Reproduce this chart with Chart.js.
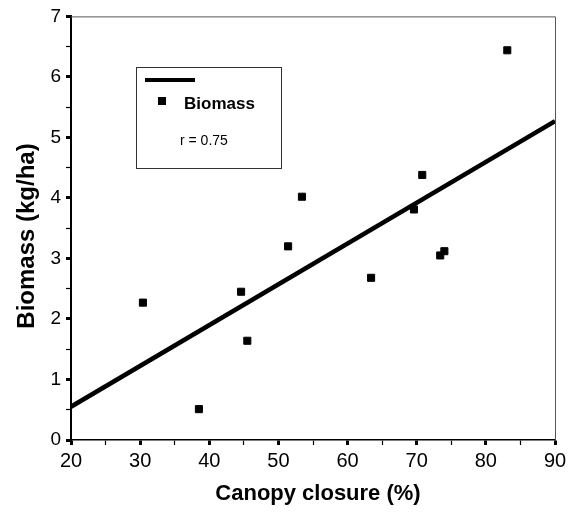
<!DOCTYPE html>
<html>
<head>
<meta charset="utf-8">
<script src="https://cdn.jsdelivr.net/npm/chart.js@4"></script>
<style>
  html, body { margin: 0; padding: 0; background: #fff; }
  #wrap { width: 576px; height: 512px; }
</style>
</head>
<body>
<div id="wrap"><canvas id="chart" width="576" height="512"></canvas></div>
<script>
// ===============================
// DATA
// ===============================
const canopy  = [30.4, 38.5, 44.6, 45.5, 51.4, 53.4, 63.4, 69.6, 70.8, 73.4, 74.0, 83.1];
const biomass = [2.27, 0.51, 2.45, 1.64, 3.20, 4.02, 2.68, 3.81, 4.38, 3.05, 3.12, 6.44];
const fitX = [20, 90];
const fitY = [0.55, 5.27];
const xTicks = [20, 30, 40, 50, 60, 70, 80, 90];
const yTicks = [0, 1, 2, 3, 4, 5, 6, 7];

const FONT = "'Liberation Sans', Arial, sans-serif";

const points = canopy.map((x, i) => ({ x: x, y: biomass[i] }));
const fitLine = fitX.map((x, i) => ({ x: x, y: fitY[i] }));

// ===============================
// FRAME, LEGEND BOX, AXIS TITLES
// ===============================
const decor = {
  id: "decor",
  beforeDatasetsDraw(chart) {
    const { ctx, chartArea: a } = chart;
    ctx.save();
    ctx.strokeStyle = "#555";
    ctx.lineWidth = 1;
    ctx.beginPath();
    ctx.moveTo(a.left, a.top + 0.5);
    ctx.lineTo(a.right + 0.5, a.top + 0.5);
    ctx.lineTo(a.right + 0.5, a.bottom);
    ctx.stroke();
    ctx.restore();
  },
  afterDraw(chart) {
    const { ctx } = chart;
    ctx.save();

    // legend box
    ctx.fillStyle = "#fff";
    ctx.fillRect(136, 67, 145, 101);
    ctx.strokeStyle = "#333";
    ctx.lineWidth = 1;
    ctx.strokeRect(136.5, 67.5, 145, 101);

    ctx.strokeStyle = "#000";
    ctx.lineWidth = 4;
    ctx.beginPath();
    ctx.moveTo(145, 80);
    ctx.lineTo(195, 80);
    ctx.stroke();

    ctx.fillStyle = "#000";
    ctx.fillRect(158, 97, 8, 8);

    ctx.textBaseline = "middle";
    ctx.textAlign = "left";
    ctx.font = "bold 17px " + FONT;
    ctx.fillText("Biomass", 184, 104);
    ctx.font = "14px " + FONT;
    ctx.fillText("r = 0.75", 180, 141);

    // axis titles
    ctx.font = "bold 22px " + FONT;
    ctx.textAlign = "center";
    ctx.fillText("Canopy closure (%)", 318, 494);
    ctx.font = "bold 24px " + FONT;
    ctx.translate(27, 236);
    ctx.rotate(-Math.PI / 2);
    ctx.fillText("Biomass (kg/ha)", 0, 0);
    ctx.restore();
  }
};

// ===============================
// CHART
// ===============================
new Chart(document.getElementById("chart"), {
  type: "scatter",
  data: {
    datasets: [
      {
        type: "line",
        data: fitLine,
        borderColor: "#000",
        borderWidth: 4.5,
        pointRadius: 0,
        fill: false,
        order: 2
      },
      {
        data: points,
        pointStyle: "rect",
        pointRadius: 5,
        pointBorderWidth: 1,
        backgroundColor: "#000",
        borderColor: "#000",
        order: 1
      }
    ]
  },
  options: {
    responsive: false,
    animation: false,
    layout: { padding: { top: 12, right: 21, left: 0, bottom: 0 } },
    plugins: { legend: { display: false }, tooltip: { enabled: false } },
    scales: {
      x: {
        type: "linear",
        min: 20,
        max: 90,
        afterFit: s => { s.height = 72; },
        afterBuildTicks: s => {
          s.ticks = [];
          for (let v = s.min; v <= s.max; v += 5) s.ticks.push({ value: v });
        },
        border: { color: "#000", width: 1.5 },
        grid: {
          drawOnChartArea: false,
          tickLength: 5,
          tickColor: "#000",
          tickWidth: c => (xTicks.includes(c.tick.value) ? 3 : 1.2)
        },
        ticks: {
          color: "#000",
          font: { family: FONT, size: 20 },
          padding: 4,
          maxRotation: 0,
          autoSkip: false,
          callback: v => (xTicks.includes(v) ? String(v) : "")
        }
      },
      y: {
        type: "linear",
        min: 0,
        max: 7,
        afterFit: s => { s.width = 71; },
        afterBuildTicks: s => {
          s.ticks = [];
          for (let v = s.min; v <= s.max; v += 0.5) s.ticks.push({ value: v });
        },
        border: { color: "#000", width: 2 },
        grid: {
          drawOnChartArea: false,
          tickLength: 5,
          tickColor: "#000",
          tickWidth: c => (yTicks.includes(c.tick.value) ? 3 : 1.2)
        },
        ticks: {
          color: "#000",
          font: { family: FONT, size: 19 },
          padding: 5,
          autoSkip: false,
          callback: v => (yTicks.includes(v) ? String(v) : "")
        }
      }
    }
  },
  plugins: [decor]
});
</script>
</body>
</html>
